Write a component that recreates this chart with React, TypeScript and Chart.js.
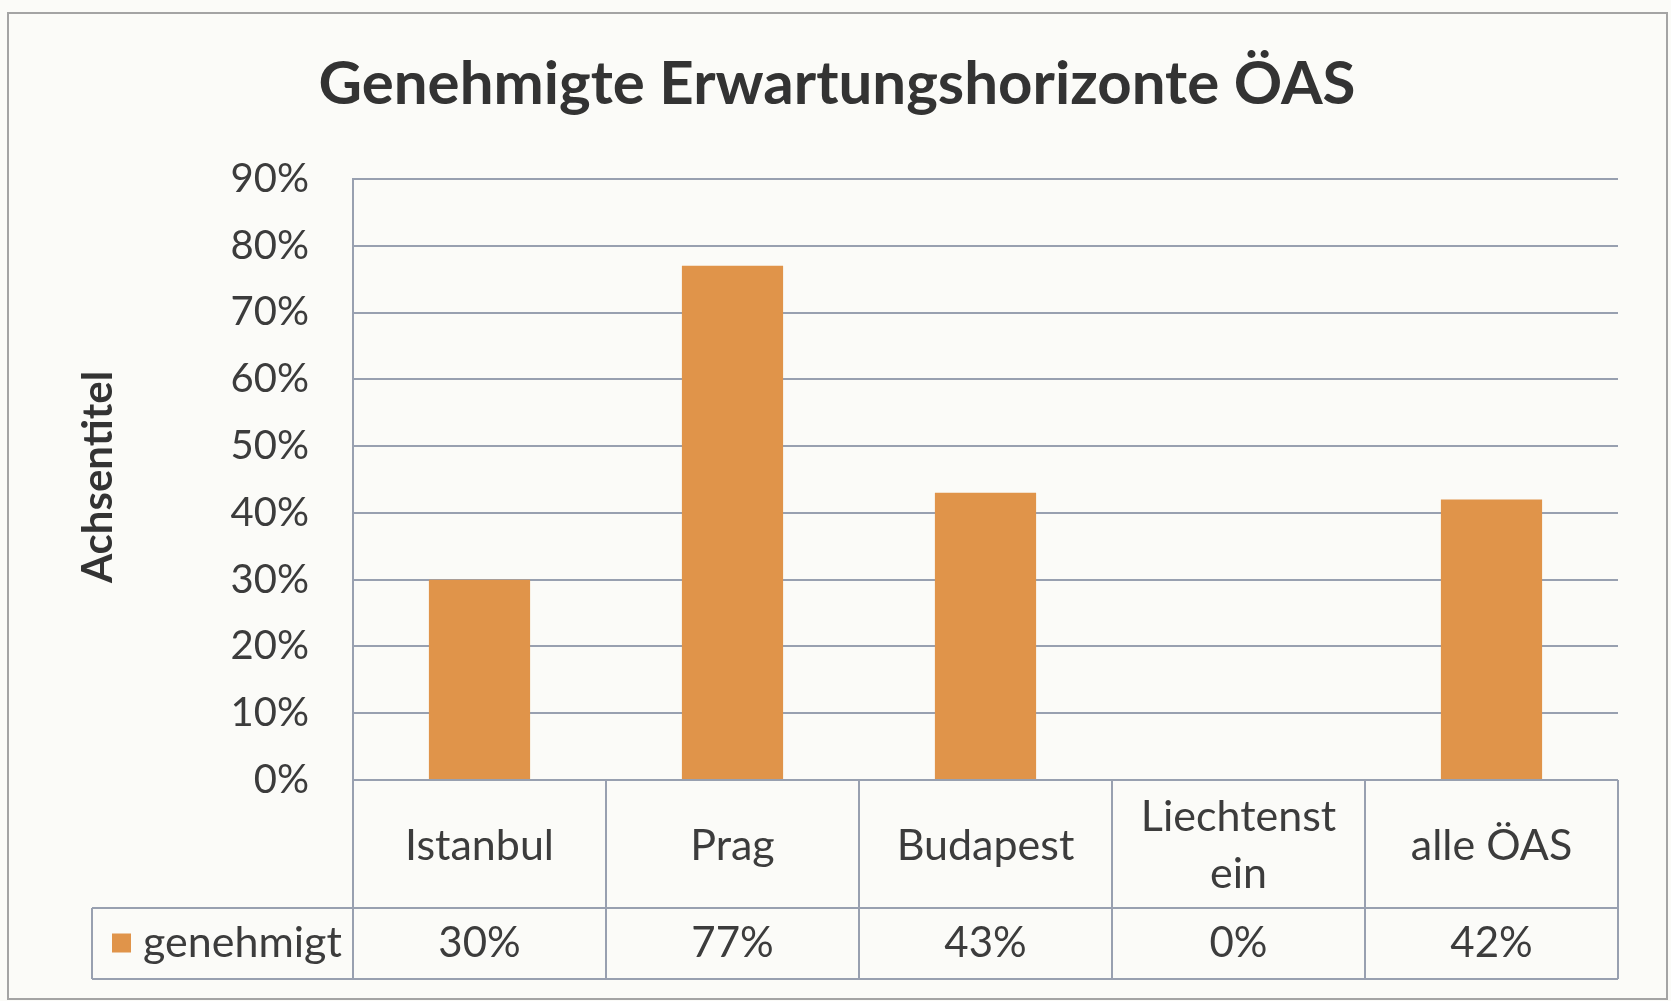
import React, { useEffect, useRef } from "react";
import { Chart, registerables } from "chart.js";

Chart.register(...registerables);

const TITLE = "Genehmigte Erwartungshorizonte ÖAS";
const Y_TITLE = "Achsentitel";
const SERIES_NAME = "genehmigt";
const CATEGORIES: string[][] = [["Istanbul"], ["Prag"], ["Budapest"], ["Liechtenst", "ein"], ["alle ÖAS"]];
const VALUES: number[] = [30, 77, 43, 0, 42];
const Y_MIN = 0;
const Y_MAX = 90;
const Y_STEP = 10;

const FONT = "Lato, 'Open Sans', sans-serif";
const TEXT = "#3c3c3c";
const GRID = "#98a0b0";
const BAR = "#e0944a";
const BG = "#fbfbf8";

const tablePlugin = {
  id: "dataTable",
  beforeDraw(chart: any) {
    const ctx = chart.ctx;
    ctx.save();
    ctx.fillStyle = BG;
    ctx.fillRect(0, 0, chart.width, chart.height);
    ctx.restore();
  },
  afterDraw(chart: any) {
    const ctx = chart.ctx;
    const ca = chart.chartArea;
    const xs = chart.scales.x;
    const n = CATEGORIES.length;
    const step = xs.getPixelForValue(1) - xs.getPixelForValue(0);
    const top = ca.bottom;
    const mid = top + 128;
    const bot = mid + 71;
    const legLeft = 92;

    ctx.save();
    // outer frame
    ctx.strokeStyle = "#a4a4a4";
    ctx.lineWidth = 2;
    ctx.strokeRect(8, 13, chart.width - 12, chart.height - 15);

    // title
    ctx.fillStyle = "#333333";
    ctx.textAlign = "center";
    ctx.textBaseline = "middle";
    ctx.font = `bold 60px ${FONT}`;
    ctx.fillText(TITLE, 837, 85);

    // y axis title
    ctx.save();
    ctx.translate(98, 477);
    ctx.rotate(-Math.PI / 2);
    ctx.font = `bold 42px ${FONT}`;
    ctx.fillText(Y_TITLE, 0, 0);
    ctx.restore();

    // table lines
    ctx.strokeStyle = GRID;
    ctx.lineWidth = 2;
    ctx.beginPath();
    ctx.moveTo(ca.left, top);
    ctx.lineTo(ca.right, top);
    ctx.moveTo(legLeft, mid);
    ctx.lineTo(ca.right, mid);
    ctx.moveTo(legLeft, bot);
    ctx.lineTo(ca.right, bot);
    ctx.moveTo(legLeft, mid);
    ctx.lineTo(legLeft, bot);
    for (let i = 0; i <= n; i++) {
      const x = xs.getPixelForValue(0) - step / 2 + i * step;
      ctx.moveTo(x, top);
      ctx.lineTo(x, bot);
    }
    ctx.stroke();

    // category labels and values
    ctx.fillStyle = TEXT;
    for (let i = 0; i < n; i++) {
      const cx = xs.getPixelForValue(i);
      const lines = CATEGORIES[i];
      const lh = 57;
      const cy = (top + mid) / 2 + 2;
      ctx.font = `43px ${FONT}`;
      lines.forEach((ln, j) => {
        ctx.fillText(ln, cx, cy + (j - (lines.length - 1) / 2) * lh);
      });
      ctx.font = `42px ${FONT}`;
      ctx.fillText(`${VALUES[i]}%`, cx, (mid + bot) / 2);
    }

    // legend
    ctx.fillStyle = BAR;
    ctx.fillRect(112, (mid + bot) / 2 - 10, 19, 19);
    ctx.fillStyle = TEXT;
    ctx.textAlign = "left";
    ctx.font = `43px ${FONT}`;
    ctx.fillText(SERIES_NAME, 143, (mid + bot) / 2);
    ctx.restore();
  },
};

export default function App() {
  const ref = useRef<HTMLCanvasElement | null>(null);
  useEffect(() => {
    if (!ref.current) return;
    const chart = new Chart(ref.current, {
      type: "bar",
      data: {
        labels: CATEGORIES.map((c) => c.join("")),
        datasets: [
          {
            label: SERIES_NAME,
            data: VALUES,
            backgroundColor: BAR,
            borderWidth: 0,
            barPercentage: 0.4,
            categoryPercentage: 1,
          },
        ],
      },
      options: {
        responsive: false,
        animation: false,
        devicePixelRatio: 1,
        layout: { padding: { left: 0, top: 179, right: 53, bottom: 221 } },
        plugins: { legend: { display: false }, title: { display: false }, tooltip: { enabled: false } },
        scales: {
          x: { display: false },
          y: {
            min: Y_MIN,
            max: Y_MAX,
            afterFit: (s: any) => {
              s.width = 353;
            },
            ticks: {
              stepSize: Y_STEP,
              padding: 44,
              color: TEXT,
              font: { family: FONT, size: 40 },
              callback: (v: any) => `${v}%`,
            },
            grid: { color: GRID, lineWidth: 2, drawTicks: false },
            border: { display: true, color: GRID, width: 2 },
          },
        },
      },
      plugins: [tablePlugin],
    });
    return () => chart.destroy();
  }, []);
  return (
    <div style={{ position: "fixed", left: 0, top: 0, width: 1671, height: 1001, background: BG }}>
      <canvas ref={ref} width={1671} height={1001} />
    </div>
  );
}
